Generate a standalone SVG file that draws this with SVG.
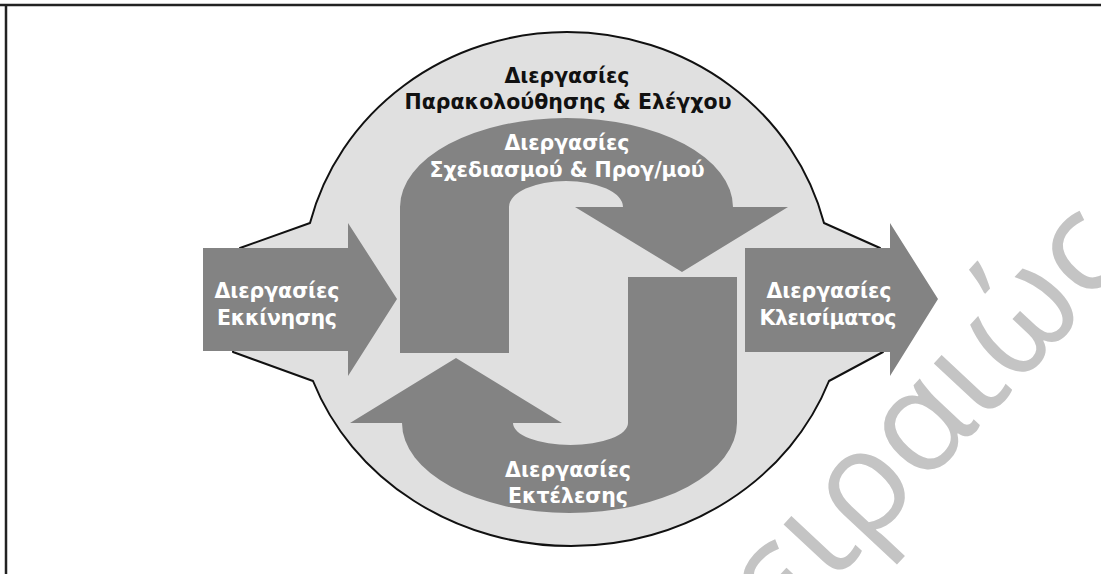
<svg xmlns="http://www.w3.org/2000/svg" width="1101" height="574" viewBox="0 0 1101 574">
  <style>
    .dark { fill: #838383; }
    .blob { fill: #e0e0e0; stroke: #111111; stroke-width: 2; stroke-linejoin: round; }
    .lbl { font-family: "DejaVu Sans", "Liberation Sans", sans-serif; font-weight: bold; font-size: 20.5px; text-anchor: middle; }
    .white { fill: #ffffff; }
    .black { fill: #111111; }
    .mark { font-family: "Open Sans", "DejaVu Sans", sans-serif; font-size: 142px; fill: #c4c4c4; }
  </style>

  <rect x="0" y="0" width="1101" height="574" fill="#ffffff"/>

  <!-- frame: top rule and left rule -->
  <g id="frame" stroke="#222222" stroke-width="2.5" fill="none">
    <line x1="0" y1="5" x2="1101" y2="5"/>
    <line x1="6" y1="4" x2="6" y2="574"/>
  </g>

  <!-- monitoring & controlling: the surrounding disc -->
  <g id="monitoring">
    <path class="blob" d="M240,248 L310,223 A265,252.5 0 0 1 824,223 L880,248 L883,352 L829,381 A275,252.5 0 0 1 313,381 L233,352 Z"/>
    <text class="lbl black" x="567" y="83" textLength="125" lengthAdjust="spacing">Διεργασίες</text>
    <text class="lbl black" x="568" y="109" textLength="327" lengthAdjust="spacing">Παρακολούθησης &amp; Ελέγχου</text>
  </g>

  <!-- planning: curved arrow over the top -->
  <g id="planning">
    <path class="dark" d="M400,353 L400,207 A166.5,89 0 0 1 733,207 L788,207 L682,272 L575,207 L623,207 A57,26 0 0 0 509,207 L509,353 Z"/>
    <text class="lbl white" x="567" y="150" textLength="125" lengthAdjust="spacing">Διεργασίες</text>
    <text class="lbl white" x="567" y="177" textLength="275" lengthAdjust="spacing">Σχεδιασμού &amp; Προγ/μού</text>
  </g>

  <!-- executing: curved arrow underneath -->
  <g id="executing">
    <path class="dark" d="M737,277 L737,423 A167.5,90 0 0 1 402,423 L350,423 L456,358 L562,423 L513,423 A57.5,22 0 0 0 628,423 L628,277 Z"/>
    <text class="lbl white" x="568" y="477" textLength="126" lengthAdjust="spacing">Διεργασίες</text>
    <text class="lbl white" x="568" y="503" textLength="120" lengthAdjust="spacing">Εκτέλεσης</text>
  </g>

  <!-- initiating: entry arrow -->
  <g id="initiating">
    <path class="dark" d="M203,248 L348,248 L348,223 L397,299 L348,376 L348,351 L203,351 Z"/>
    <text class="lbl white" x="277" y="298" textLength="125" lengthAdjust="spacing">Διεργασίες</text>
    <text class="lbl white" x="277" y="325" textLength="120" lengthAdjust="spacing">Εκκίνησης</text>
  </g>

  <!-- closing: exit arrow -->
  <g id="closing">
    <path class="dark" d="M745,248 L890,248 L890,223 L938,299 L890,376 L890,352 L745,352 Z"/>
    <text class="lbl white" x="829" y="298" textLength="125" lengthAdjust="spacing">Διεργασίες</text>
    <text class="lbl white" x="828" y="325" textLength="137" lengthAdjust="spacing">Κλεισίματος</text>
  </g>

  <g id="connectors"/>

  <!-- watermark -->
  <text class="mark" transform="translate(722,702) rotate(-47)">πειραιώς</text>
</svg>
